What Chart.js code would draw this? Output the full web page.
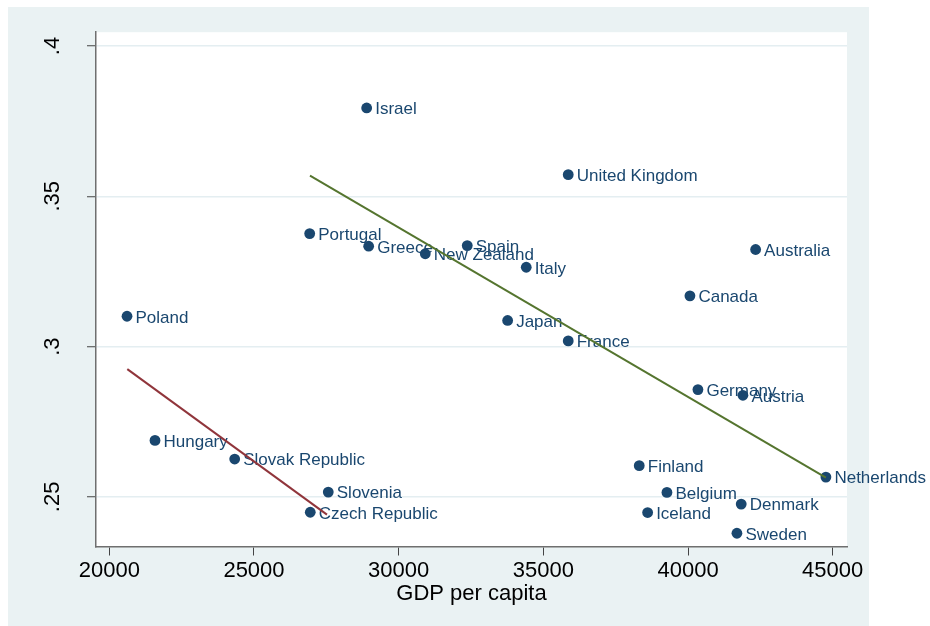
<!DOCTYPE html>
<html>
<head>
<meta charset="utf-8">
<script src="https://cdn.jsdelivr.net/npm/chart.js@4/dist/chart.umd.min.js"></script>
<style>
  html, body { margin: 0; padding: 0; background: #ffffff; }
  #wrap { width: 930px; height: 626px; position: relative; }
</style>
</head>
<body>
<div id="wrap"><canvas id="chart" width="930" height="626"></canvas></div>
<script>
// Income inequality (Gini) against GDP per capita, OECD countries
const countries = [
  'Israel', 'United Kingdom', 'Portugal', 'Greece', 'New Zealand', 'Spain',
  'Italy', 'Australia', 'Canada', 'Poland', 'Japan', 'France', 'Germany',
  'Austria', 'Hungary', 'Slovak Republic', 'Finland', 'Netherlands',
  'Slovenia', 'Belgium', 'Czech Republic', 'Iceland', 'Denmark', 'Sweden'
];
const gdpPerCapita = [
  28894, 35860, 26925, 28963, 30919, 32370,
  34409, 42336, 40066, 20612, 33766, 35860, 40342,
  41897, 21579, 24333, 38314, 44765,
  27567, 39271, 26945, 38604, 41838, 41690
];
const gini = [
  0.3794, 0.3572, 0.3376, 0.3334, 0.3309, 0.3336,
  0.3264, 0.3323, 0.3169, 0.3101, 0.3087, 0.3019, 0.2857,
  0.2838, 0.2688, 0.2626, 0.2604, 0.2566,
  0.2516, 0.2515, 0.2449, 0.2448, 0.2476, 0.2379
];

// Linear fits: former eastern bloc and the remaining countries
const eastFitX = [20622, 27522];
const eastFitY = [0.2925, 0.2441];
const westFitX = [26935, 44765];
const westFitY = [0.3569, 0.2564];

const xTicks = [20000, 25000, 30000, 35000, 40000, 45000];
const yTicks = [0.25, 0.3, 0.35, 0.4];
const yTickLabels = ['.25', '.3', '.35', '.4'];

const FONT = "'Liberation Sans', Arial, sans-serif";
const NAVY = '#1a476f';
const PANEL = '#eaf2f3';

const toPoints = (xs, ys) => xs.map((x, i) => ({ x: x, y: ys[i] }));

const backgroundPlugin = {
  id: 'panelBackground',
  beforeDraw(chart) {
    const ctx = chart.ctx;
    const a = chart.chartArea;
    ctx.save();
    ctx.fillStyle = '#ffffff';
    ctx.fillRect(0, 0, chart.width, chart.height);
    ctx.fillStyle = PANEL;
    ctx.fillRect(8, 7, 861, 619);
    ctx.fillStyle = '#ffffff';
    ctx.fillRect(a.left, a.top, a.right - a.left, a.bottom - a.top);
    ctx.restore();
  }
};

// Country names beside each marker, drawn under the fit lines
const labelPlugin = {
  id: 'pointLabels',
  afterDatasetDraw(chart, args) {
    if (args.index !== 0) return;
    const ctx = chart.ctx;
    const meta = args.meta;
    ctx.save();
    ctx.font = '17px ' + FONT;
    ctx.fillStyle = NAVY;
    ctx.textAlign = 'left';
    ctx.textBaseline = 'alphabetic';
    meta.data.forEach((pt, i) => {
      ctx.fillText(countries[i], pt.x + 8.5, pt.y + 6.3);
    });
    ctx.restore();
  }
};

new Chart(document.getElementById('chart'), {
  type: 'scatter',
  data: {
    datasets: [
      {
        label: 'Gini',
        data: toPoints(gdpPerCapita, gini),
        backgroundColor: NAVY,
        borderWidth: 0,
        pointRadius: 5.4,
        order: 3
      },
      {
        label: 'Fit (east)',
        data: toPoints(eastFitX, eastFitY),
        showLine: true,
        borderColor: '#90353b',
        borderWidth: 2,
        pointRadius: 0,
        fill: false,
        order: 1
      },
      {
        label: 'Fit (west)',
        data: toPoints(westFitX, westFitY),
        showLine: true,
        borderColor: '#55752f',
        borderWidth: 2,
        pointRadius: 0,
        fill: false,
        order: 2
      }
    ]
  },
  options: {
    responsive: false,
    devicePixelRatio: 1,
    animation: false,
    events: [],
    layout: { padding: { left: 0, top: 29.5, right: 83, bottom: 0 } },
    plugins: {
      legend: { display: false },
      tooltip: { enabled: false },
      title: { display: false }
    },
    scales: {
      x: {
        type: 'linear',
        min: 19540,
        max: 45494,
        afterBuildTicks(scale) { scale.ticks = xTicks.map(v => ({ value: v })); },
        afterFit(scale) { scale.height = 79.5; },
        grid: {
          display: true,
          drawOnChartArea: false,
          drawTicks: true,
          tickLength: 9,
          tickColor: '#444444',
          tickWidth: 1
        },
        border: { display: true, color: '#6f6f6f', width: 1.5 },
        ticks: {
          color: '#000000',
          padding: 2.3,
          maxRotation: 0,
          autoSkip: false,
          font: { family: FONT, size: 22, lineHeight: 1.2 },
          callback: (v) => String(v)
        },
        title: {
          display: true,
          text: 'GDP per capita',
          color: '#000000',
          font: { family: FONT, size: 22, lineHeight: 1.2 },
          padding: { top: 0, bottom: 19.3 }
        }
      },
      y: {
        type: 'linear',
        min: 0.2335,
        max: 0.4046,
        afterBuildTicks(scale) { scale.ticks = yTicks.map(v => ({ value: v })); },
        afterFit(scale) { scale.width = 96; },
        grid: {
          display: true,
          drawOnChartArea: true,
          drawTicks: true,
          color: '#e4eef1',
          lineWidth: 1.5,
          tickLength: 9,
          tickColor: '#444444',
          tickWidth: 1
        },
        border: { display: true, color: '#6f6f6f', width: 1.5 },
        ticks: {
          color: '#000000',
          padding: 19,
          minRotation: 90,
          maxRotation: 90,
          crossAlign: 'center',
          autoSkip: false,
          font: { family: FONT, size: 22, lineHeight: 1.2 },
          callback: (v, i) => yTickLabels[i]
        }
      }
    }
  },
  plugins: [backgroundPlugin, labelPlugin]
});
</script>
</body>
</html>
